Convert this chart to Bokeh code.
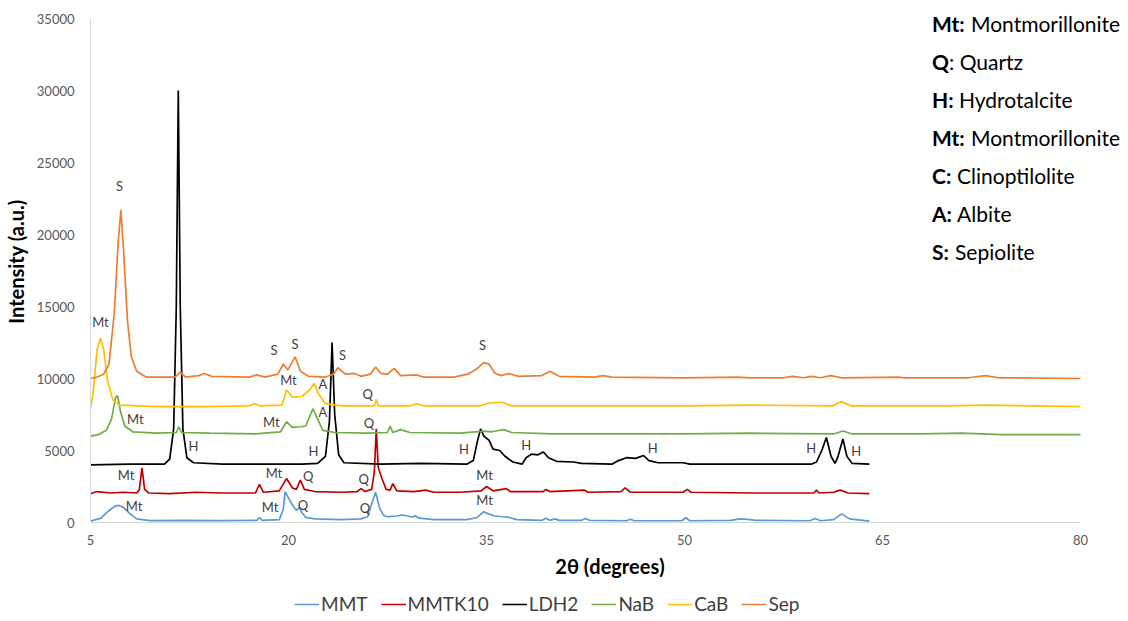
from bokeh.plotting import figure
from bokeh.layouts import column
from bokeh.models import Range1d, FixedTicker, Legend, LegendItem, Label, ColumnDataSource
from bokeh.core.properties import value
from bokeh.embed import file_html
from bokeh.resources import INLINE

# ---------------- data (2theta, intensity) ----------------
mmt = [(5,100),(5.8,300),(6.3,750),(6.8,1100),(7.1,1200),(7.5,1050),(8.0,600),(8.5,250),(9.5,130),
       (12,150),(15,130),(17.6,150),(17.8,350),(18.0,150),(19.3,200),(19.6,900),(19.75,2150),
       (19.95,1800),(20.3,1200),(20.6,850),(20.85,1050),(21.0,700),(21.1,600),(21.3,350),(22,250),
       (24,200),(25.5,250),(26.0,400),(26.3,1300),(26.6,2100),(26.9,1000),(27.2,500),(27.5,400),
       (27.8,420),(28.2,450),(28.6,520),(29.0,450),(29.4,380),(29.6,470),(29.9,300),(30.5,250),
       (31,200),(33.5,200),(34.3,350),(34.8,750),(35.0,650),(35.6,450),(36.3,400),(36.7,350),
       (37.3,200),(39.2,150),(39.5,300),(39.8,150),(40.2,250),(40.5,150),(42.2,150),(42.5,280),
       (42.8,150),(45.6,120),(45.9,230),(46.2,120),(49.8,120),(50.1,330),(50.4,120),(53.5,150),
       (54.2,250),(54.8,220),(55.4,150),(59.5,120),(59.9,280),(60.3,120),(61.3,200),(61.9,600),
       (62.5,250),(64,100)]

mmtk10 = [(5,2000),(5.5,2150),(6.5,2050),(7.5,2100),(8.5,2050),(8.7,2300),(8.9,3800),(9.1,2300),
          (9.4,2050),(11,2000),(13,2100),(15,2050),(17.5,2050),(17.8,2650),(18.1,2100),(19.3,2200),
          (19.85,3050),(20.3,2400),(20.6,2300),(20.9,2950),(21.2,2300),(22,2150),(24,2100),
          (25.2,2150),(25.5,2350),(25.8,2150),(26.3,2300),(26.5,3500),(26.65,6500),(26.8,3800),
          (27.1,3000),(27.4,2300),(27.7,2250),(27.9,2700),(28.2,2200),(29.5,2150),(30.4,2250),
          (31,2100),(33,2100),(34.6,2200),(35.0,2500),(35.5,2200),(36.5,2350),(36.8,2150),
          (39.3,2150),(39.5,2300),(39.8,2150),(42.4,2250),(42.7,2100),(45.2,2150),(45.5,2400),
          (45.9,2100),(49.9,2100),(50.2,2300),(50.5,2100),(55,2050),(59.8,2050),(60,2250),
          (60.2,2050),(61.3,2100),(61.8,2250),(62.4,2050),(64,2000)]

ldh2 = [(5,4000),(8,4050),(10.6,4050),(11.0,4400),(11.3,6500),(11.5,15000),(11.65,30000),
        (11.8,15000),(12.0,6500),(12.3,4500),(12.8,4150),(15,4050),(18,4050),(21,4050),
        (22.2,4100),(22.8,4600),(23.1,7000),(23.3,12500),(23.5,7500),(23.8,4700),(24.2,4150),
        (27,4050),(30,4100),(33.5,4050),(34.0,4300),(34.3,5600),(34.55,6500),(34.8,6000),
        (35.2,5700),(35.5,5100),(36.0,5000),(36.4,4600),(37.0,4200),(37.7,4050),(38.0,4500),
        (38.4,4750),(38.9,4700),(39.3,4900),(39.7,4500),(40.3,4250),(41.6,4200),(42.2,4100),
        (44.5,4050),(45.0,4300),(45.6,4500),(46.3,4450),(46.9,4650),(47.3,4300),(48,4150),
        (49.9,4150),(50.4,4050),(59.6,4050),(60.0,4200),(60.4,5000),(60.75,5900),(61.1,4600),
        (61.4,4100),(61.6,4500),(62.0,5800),(62.3,4600),(62.7,4100),(64,4050)]

nab = [(5,6000),(5.6,6100),(6.2,6400),(6.6,7200),(6.9,8700),(7.05,8800),(7.3,7600),(7.6,6700),
       (8.2,6300),(10,6200),(11.5,6250),(11.7,6650),(11.9,6250),(14,6200),(17.5,6150),(19.4,6300),
       (19.85,7000),(20.3,6600),(20.9,6650),(21.3,6700),(21.85,7900),(22.2,7200),(22.6,6400),
       (23.5,6250),(26,6200),(27.5,6250),(27.7,6700),(27.9,6250),(28.5,6450),(29.2,6250),
       (33,6200),(34.8,6350),(35.4,6300),(36.3,6450),(36.9,6250),(40,6150),(50,6150),(55,6200),
       (61.3,6150),(62.0,6350),(62.7,6150),(68,6150),(71,6200),(74,6100),(80,6100)]

cab = [(5,7900),(5.2,9000),(5.5,12000),(5.75,12800),(6.0,12000),(6.3,9800),(6.7,8500),(7.2,8150),
       (10,8050),(14,8050),(17.0,8100),(17.4,8250),(17.9,8100),(19.5,8150),(19.85,9200),
       (20.3,8700),(21.0,8750),(21.6,9200),(21.95,9650),(22.3,8900),(22.8,8250),(24,8100),
       (26.5,8100),(26.65,8550),(26.8,8100),(29.2,8100),(29.7,8250),(30.3,8100),(34.5,8100),
       (35.2,8300),(36.2,8350),(36.9,8100),(50,8100),(55,8150),(61.2,8100),(61.9,8400),
       (62.6,8100),(70,8100),(73,8150),(80,8050)]

sep = [(5,10000),(5.5,10100),(6.0,10300),(6.4,11000),(6.8,14500),(7.1,19500),(7.3,21700),
       (7.5,19000),(7.8,14000),(8.1,11500),(8.5,10500),(9.2,10100),(11.4,10100),(11.8,10450),
       (12.2,10100),(13.2,10200),(13.6,10350),(14.2,10150),(17,10100),(17.6,10250),(18.2,10100),
       (19.2,10300),(19.6,11000),(19.95,10600),(20.5,11500),(20.9,10500),(21.5,10150),
       (22.8,10100),(23.4,10300),(23.75,10750),(24.3,10300),(25.0,10350),(25.5,10150),
       (26.2,10300),(26.6,10800),(27.0,10350),(27.5,10300),(28.0,10700),(28.5,10200),
       (29.7,10250),(30.2,10100),(32.5,10100),(33.6,10300),(34.3,10700),(34.8,11100),
       (35.2,11000),(35.6,10400),(36.1,10200),(36.7,10350),(37.4,10150),(39.2,10200),
       (39.8,10500),(40.5,10150),(43.2,10100),(43.8,10200),(44.5,10100),(50,10050),(54,10100),
       (55,10050),(57.5,10050),(58.2,10150),(59,10050),(59.6,10150),(60.3,10050),(61.1,10200),
       (61.9,10050),(66.2,10100),(66.6,10050),(71.5,10050),(72.8,10200),(73.8,10050),(80,10000)]

series_names = ["MMT", "MMTK10", "LDH2", "NaB", "CaB", "Sep"]
series_data = [mmt, mmtk10, ldh2, nab, cab, sep]
series_colors = ["#5B9BD5", "#C00000", "#000000", "#70AD47", "#FFC000", "#ED7D31"]

x_ticks = [5, 20, 35, 50, 65, 80]
y_ticks = [0, 5000, 10000, 15000, 20000, 25000, 30000, 35000]

# peak annotations
peak_x = [7.2, 5.75, 8.4, 12.8, 7.7, 8.3, 18.9, 20.5, 20.0, 22.6, 24.1, 22.6, 18.7, 21.9, 26.0,
          26.1, 18.9, 21.5, 25.7, 18.6, 21.1, 25.8, 34.7, 33.3, 38.0, 47.6, 34.85, 34.85, 59.6, 63.0]
peak_y = [23400, 13900, 7200, 5300, 3300, 1180, 12000, 12400, 9900, 9650, 11600, 7700, 7000, 5000,
          8900, 6900, 3470, 3200, 3050, 1100, 1250, 1040, 12300, 5070, 5350, 5140, 3330, 1530, 5140, 5000]
peak_t = ["S", "Mt", "Mt", "H", "Mt", "Mt", "S", "S", "Mt", "A", "S", "A", "Mt", "H", "Q",
          "Q", "Mt", "Q", "Q", "Mt", "Q", "Q", "S", "H", "H", "H", "Mt", "Mt", "H", "H"]

key_bold = ["Mt:", "Q", "H:", "Mt:", "C:", "A:", "S:"]
key_rest = [" Montmorillonite", ": Quartz", " Hydrotalcite", " Montmorillonite", " Clinoptilolite",
            " Albite", " Sepiolite"]

FONT = "Lato"

# frame spans from the canvas top (y_range end above 35000) so the key text is not clipped
p = figure(width=1128, height=585, output_backend="svg", toolbar_location=None,
           x_range=Range1d(5, 83.636), y_range=Range1d(0, 36250),
           min_border_left=90, min_border_right=0, min_border_top=0, min_border_bottom=63)
p.outline_line_color = None
p.xgrid.grid_line_color = None
p.ygrid.grid_line_color = None

renderers = []
for name, data, col in zip(series_names, series_data, series_colors):
    xs = [d[0] for d in data]
    ys = [d[1] for d in data]
    r = p.line(xs, ys, line_color=col, line_width=1.7)
    renderers.append((name, r))

src = ColumnDataSource(dict(x=peak_x, y=peak_y, t=peak_t))
p.text(x="x", y="y", text="t", source=src, text_align="center", text_baseline="middle",
       text_font=value(FONT), text_font_size="13px", text_color="#404040")

# key text on the right
y_key = [34630, 31990, 29350, 26710, 24070, 21430, 18790]
bold_w = [39, 17, 27, 39, 25, 25, 23]
for yk, b, rest, w in zip(y_key, key_bold, key_rest, bold_w):
    p.add_layout(Label(x=68.75, y=yk, text=b, text_font=FONT, text_font_size="21px",
                       text_font_style="bold", text_baseline="middle", text_color="#000000"))
    p.add_layout(Label(x=68.75, y=yk, x_offset=w, text=rest, text_font=FONT, text_font_size="21px",
                       text_baseline="middle", text_color="#000000"))

for ax in (p.xaxis[0], p.yaxis[0]):
    ax.axis_line_color = "#D9D9D9"
    ax.major_tick_line_color = None
    ax.minor_tick_line_color = None
    ax.major_label_text_font = FONT
    ax.major_label_text_font_size = "13px"
    ax.major_label_text_color = "#595959"
    ax.axis_label_text_font = FONT
    ax.axis_label_text_font_style = "bold"
    ax.axis_label_text_font_size = "20px"
    ax.axis_label_text_color = "#000000"

p.xaxis.bounds = (5, 80)
p.yaxis.bounds = (0, 35000)
p.xaxis.ticker = FixedTicker(ticks=x_ticks)
p.yaxis.ticker = FixedTicker(ticks=y_ticks)
p.xaxis.axis_label = "2θ (degrees)"
p.yaxis.axis_label = "Intensity (a.u.)"
p.xaxis.major_label_standoff = 6
p.yaxis.major_label_standoff = 10
p.xaxis.axis_label_standoff = 6
p.yaxis.axis_label_standoff = 6

# legend strip below the chart
q = figure(width=1128, height=36, output_backend="svg", toolbar_location=None,
           x_range=Range1d(0, 1), y_range=Range1d(0, 1),
           min_border_left=0, min_border_right=0, min_border_top=0, min_border_bottom=0)
q.outline_line_color = None
q.axis.visible = False
q.xgrid.grid_line_color = None
q.ygrid.grid_line_color = None
items = []
for name, col in zip(series_names, series_colors):
    # placeholder renderer lying outside the strip's visible range; only its legend glyph shows
    rr = q.line([2, 3], [2, 3], line_color=col, line_width=1.5)
    items.append(LegendItem(label=name, renderers=[rr]))
legend = Legend(items=items, orientation="horizontal", location=(204, 6),
                label_text_font=FONT, label_text_font_size="19px", label_text_color="#404040",
                glyph_width=25, label_standoff=2, spacing=13, border_line_color=None,
                background_fill_alpha=0, padding=0, margin=0)
q.add_layout(legend, "center")

layout = column(p, q, spacing=0)
open("out.html", "w").write(file_html(layout, INLINE))
